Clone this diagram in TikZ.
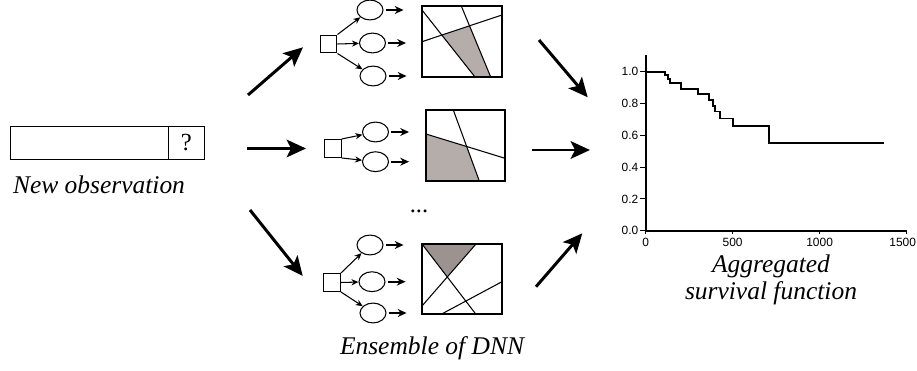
\documentclass[tikz,border=0pt]{standalone}
\usepackage{fontspec}
\setmainfont{Liberation Serif}
\newfontfamily\plotfont{Liberation Sans}
\usepackage{tikz}
\usetikzlibrary{shapes.geometric, arrows.meta, positioning, calc}
\definecolor{cellgray}{RGB}{180,173,170}
\definecolor{darkcell}{RGB}{156,147,144}

\tikzset{
  caption/.style={font=\fontsize{14.5}{15.1}\selectfont\itshape, align=center},
  obsfield/.style={draw, line width=0.6pt, minimum height=18.5pt, inner sep=0pt, outer sep=0pt},
  bigarrow/.style={line width=1.7pt, -{Stealth[length=11pt, width=10pt, inset=2.5pt]}},
  inbox/.style={draw, line width=0.6pt, minimum width=9.6pt, minimum height=10.2pt, inner sep=0pt},
  unit/.style={draw, ellipse, line width=0.6pt, minimum width=14.8pt, minimum height=11.3pt, inner sep=0pt},
  link/.style={line width=0.6pt, -{Stealth[length=4pt, width=3.5pt]}},
  outarrow/.style={line width=1.1pt, -{Stealth[length=5pt, width=4.5pt]}, shorten <=1.2pt},
  panel/.style={draw, line width=0.9pt},
  cut/.style={line width=0.6pt},
  axisline/.style={line width=1.1pt},
  ticklab/.style={font=\plotfont\fontsize{6.8}{7.5}\selectfont, inner sep=0.5pt},
  curve/.style={line width=1.1pt},
}

\begin{document}
\begin{tikzpicture}[x=0.02cm, y=-0.02cm]
\useasboundingbox (0,0) rectangle (917,371);

% new observation
\node[obsfield, minimum width=89.8pt] (obs) at (89.2,143) {};
\node[obsfield, minimum width=20.8pt, right=0pt of obs, font=\fontsize{14}{14}\selectfont] (qcell) {?};
\node[caption] (obscap) at (99,185) {New observation};

% arrows into the ensemble
\coordinate (a1s) at (248,95);    \coordinate (a1e) at (303,47.3);
\coordinate (a2s) at (247.3,148.5); \coordinate (a2e) at (306,148.5);
\coordinate (a3s) at (250,210);   \coordinate (a3e) at (302.7,276);
\draw[bigarrow] (a1s) -- (a1e);
\draw[bigarrow] (a2s) -- (a2e);
\draw[bigarrow] (a3s) -- (a3e);

% network 1
\node[inbox] (sqA) at (328.5,44) {};
\node[unit] (uA1) at (370,10) {};
\node[unit] (uA2) at (372.5,43) {};
\node[unit] (uA3) at (373,76) {};
\draw[link] (sqA.north east) -- (uA1);
\draw[link] (sqA.east) -- (uA2);
\draw[link] (sqA.south east) -- (uA3);
\draw[outarrow] (uA1.east) -- ++(20,0);
\draw[outarrow] (uA2.east) -- ++(20,0);
\draw[outarrow] (uA3.east) -- ++(20,0);

% partition 1
\fill[cellgray] (intersection of 422,10--475,77 and 422,41.7--502,15)
  -- (intersection of 461.3,6--490.7,77 and 422,41.7--502,15)
  -- (490.7,77) -- (475,77) -- cycle;
\draw[cut] (422,10) -- (475,77);
\draw[cut] (461.3,6) -- (490.7,77);
\draw[cut] (422,41.7) -- (502,15);
\draw[panel] (422,6) rectangle (502,77);

% network 2
\node[inbox] (sqB) at (332.7,148.5) {};
\node[unit] (uB1) at (375.5,132) {};
\node[unit] (uB2) at (375.5,161.7) {};
\draw[link] (sqB.north east) -- (uB1);
\draw[link] (sqB.south east) -- (uB2);
\draw[outarrow] (uB1.east) -- ++(20,0);
\draw[outarrow] (uB2.east) -- ++(20,0);

% partition 2
\fill[cellgray] (426,134)
  -- (intersection of 453.3,110--479.3,181 and 426,134--505,158.3)
  -- (479.3,181) -- (426,181) -- cycle;
\draw[cut] (453.3,110) -- (479.3,181);
\draw[cut] (426,134) -- (505,158.3);
\draw[panel] (426,110) rectangle (505,181);

\node[font=\fontsize{14}{14}\selectfont] (more) at (419,211) {...};

% network 3
\node[inbox] (sqC) at (332,282.5) {};
\node[unit] (uC1) at (370,245) {};
\node[unit] (uC2) at (372,281.7) {};
\node[unit] (uC3) at (373,313) {};
\draw[link] (sqC.north east) -- (uC1);
\draw[link] (sqC.east) -- (uC2);
\draw[link] (sqC.south east) -- (uC3);
\draw[outarrow] (uC1.east) -- ++(20,0);
\draw[outarrow] (uC2.east) -- ++(20,0);
\draw[outarrow] (uC3.east) -- ++(20,0);

% partition 3
\fill[darkcell] (422,244) -- (476,244)
  -- (intersection of 422,244--475.7,314 and 476,244--422,306) -- cycle;
\draw[cut] (422,244) -- (475.7,314);
\draw[cut] (476,244) -- (422,306);
\draw[cut] (441.7,314) -- (502,281.7);
\draw[panel] (422,244) rectangle (502,314);

\node[caption] (enscap) at (432,348) {Ensemble of DNN};

% arrows into the aggregate
\coordinate (b1s) at (539,40);    \coordinate (b1e) at (587.7,97.3);
\coordinate (b2s) at (531.7,150); \coordinate (b2e) at (590,150);
\coordinate (b3s) at (536,286.7); \coordinate (b3e) at (582.3,233.3);
\draw[bigarrow] (b1s) -- (b1e);
\draw[bigarrow] (b2s) -- (b2e);
\draw[bigarrow] (b3s) -- (b3e);

% survival curve
\begin{scope}[shift={(645.7,230.7)}, x={(0.00348cm,0)}, y={(0,3.18cm)}]
\draw[axisline] (0,0) -- (1500,0);
\draw[axisline] (0,0) -- (0,1.105);
\foreach \yy in {0.0,0.2,0.4,0.6,0.8,1.0}
  \draw[line width=0.6pt] (0,\yy) -- ++(-3.4pt,0) node[ticklab, anchor=east] {\yy};
\foreach \tt/\dx in {0/0pt,500/0pt,1000/0pt,1500/-2.2pt}
  \draw[line width=0.6pt] (\tt,0) -- ++(0,-1.6pt) node[ticklab, below=1.6pt, xshift=\dx] {\tt};
\draw[curve] (0,1) -| (111,0.979) -| (126,0.952) -| (138,0.927) -| (203,0.891)
  -| (299,0.86) -| (366,0.822) -| (389,0.786) -| (398,0.75) -| (427,0.706)
  -| (502,0.658) -| (711,0.549) -- (1372,0.549);
\end{scope}

\node[caption] (kmcap) at (771,280) {Aggregated\\survival function};
\end{tikzpicture}
\end{document}
